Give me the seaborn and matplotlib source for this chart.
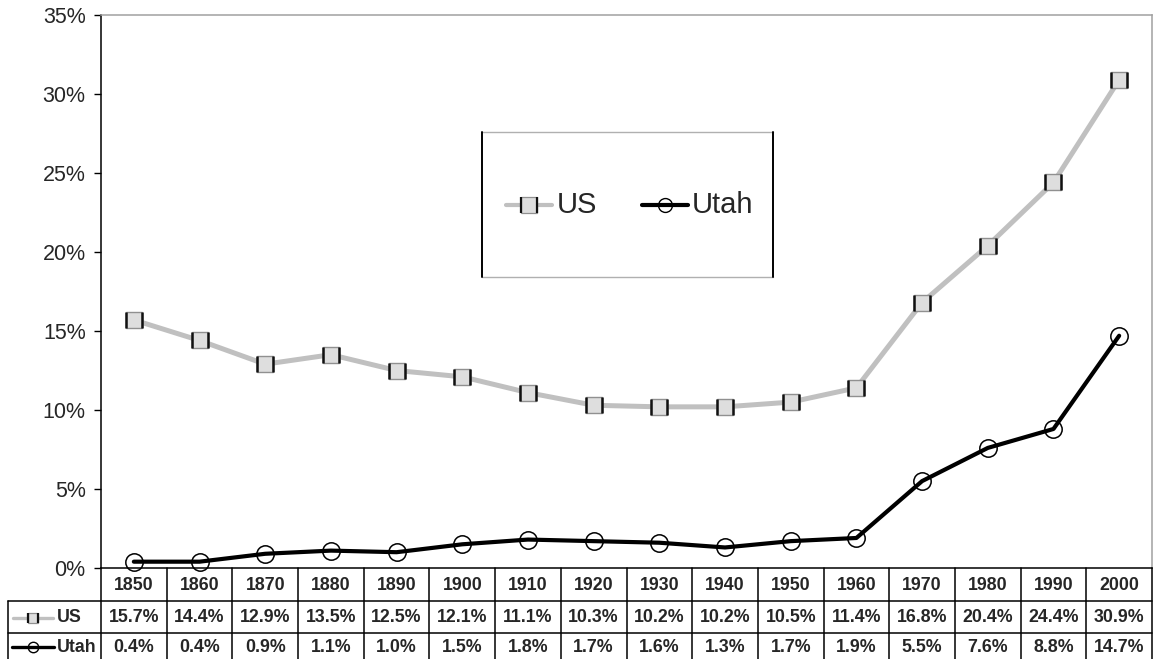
import matplotlib
matplotlib.use("Agg")
import matplotlib.pyplot as plt
import matplotlib.transforms as mtransforms
from matplotlib.path import Path
import seaborn as sns
import pandas as pd

years = ["1850", "1860", "1870", "1880", "1890", "1900", "1910", "1920",
         "1930", "1940", "1950", "1960", "1970", "1980", "1990", "2000"]
us = [15.7, 14.4, 12.9, 13.5, 12.5, 12.1, 11.1, 10.3,
      10.2, 10.2, 10.5, 11.4, 16.8, 20.4, 24.4, 30.9]
utah = [0.4, 0.4, 0.9, 1.1, 1.0, 1.5, 1.8, 1.7,
        1.6, 1.3, 1.7, 1.9, 5.5, 7.6, 8.8, 14.7]
y_ticks = [0, 5, 10, 15, 20, 25, 30, 35]

sns.set_style("white")
plt.rcParams["font.family"] = ["Liberation Sans", "DejaVu Sans"]

W, H = 1154, 659
fig = plt.figure(figsize=(W / 100, H / 100), dpi=100)
ax_l, ax_r, ax_t, ax_b = 101, 1152, 15, 568
ax = fig.add_axes([ax_l / W, 1 - ax_b / H, (ax_r - ax_l) / W, (ax_b - ax_t) / H])

x = list(range(len(years)))
df = pd.DataFrame({"x": x, "US": us, "Utah": utah})

US_LINE = "#c0c0c0"
US_FACE = "#dedede"
side_edges = Path([(-1, -1), (-1, 1), (1, -1), (1, 1)],
                  [Path.MOVETO, Path.LINETO, Path.MOVETO, Path.LINETO])

# US series: grey line with light square markers and dark side edges
sns.lineplot(data=df, x="x", y="US", ax=ax, color=US_LINE, linewidth=3.6,
             marker="s", markersize=12, markerfacecolor=US_FACE,
             markeredgecolor="#909090", markeredgewidth=1.0, zorder=3)
ax.plot(df["x"], df["US"], linestyle="none", marker=side_edges,
        markersize=12, markeredgecolor="#111111", markeredgewidth=1.8, zorder=4)

# Utah series: black line with open circles
sns.lineplot(data=df, x="x", y="Utah", ax=ax, color="black", linewidth=3.0,
             marker="o", markersize=12.5, markerfacecolor="none",
             markeredgecolor="black", markeredgewidth=1.1, zorder=5)
for ln in ax.lines:
    ln.set_clip_on(False)

ax.set_xlim(-0.5, len(years) - 0.5)
ax.set_ylim(0, 35)
ax.set_yticks(y_ticks)
ax.set_yticklabels([f"{v}%" for v in y_ticks], fontsize=15.5)
ax.set_xticks([])
ax.set_xlabel("")
ax.set_ylabel("")
ax.tick_params(axis="y", length=5, width=1, color="black", pad=6, left=True)
for side in ["top", "right"]:
    ax.spines[side].set_color("#a0a0a0")
    ax.spines[side].set_linewidth(1.1)
ax.spines["left"].set_color("black")
ax.spines["left"].set_linewidth(1.1)
ax.spines["bottom"].set_color("black")
ax.spines["bottom"].set_linewidth(1.1)

# Legend box
lx0, lx1, ly0, ly1 = 482, 773, 132, 277
fig.add_artist(plt.Line2D([lx0 / W, lx1 / W], [1 - ly0 / H] * 2, color="#b0b0b0", lw=1))
fig.add_artist(plt.Line2D([lx0 / W, lx1 / W], [1 - ly1 / H] * 2, color="#b0b0b0", lw=1))
fig.add_artist(plt.Line2D([lx0 / W] * 2, [1 - ly0 / H, 1 - ly1 / H], color="black", lw=1.4))
fig.add_artist(plt.Line2D([lx1 / W] * 2, [1 - ly0 / H, 1 - ly1 / H], color="black", lw=1.4))


def legend_handle(cx, cy, half, kind, ms, lw):
    xs = [(cx - half) / W, (cx + half) / W]
    ys = [1 - cy / H] * 2
    if kind == "us":
        fig.add_artist(plt.Line2D(xs, ys, color=US_LINE, lw=lw))
        fig.add_artist(plt.Line2D([cx / W], [1 - cy / H], marker="s", ms=ms,
                                  mfc=US_FACE, mec="#909090", mew=0.9, ls="none"))
        fig.add_artist(plt.Line2D([cx / W], [1 - cy / H], marker=side_edges, ms=ms,
                                  mec="#111111", mew=1.6, ls="none"))
    else:
        fig.add_artist(plt.Line2D(xs, ys, color="black", lw=lw))
        fig.add_artist(plt.Line2D([cx / W], [1 - cy / H], marker="o", ms=ms,
                                  mfc="none", mec="black", mew=1.0, ls="none"))


legend_handle(529, 205, 23, "us", 12, 3.0)
fig.text(557 / W, 1 - 205 / H, "US", fontsize=21, va="center", ha="left")
legend_handle(665, 205, 23, "utah", 10, 3.0)
fig.text(692 / W, 1 - 205 / H, "Utah", fontsize=21, va="center", ha="left")

# Data table below the plot
trans = mtransforms.blended_transform_factory(ax.transData, fig.transFigure)
fy = lambda py: 1 - py / H
row_header = (568, 601)
row_us = (601, 633)
row_utah = (633, 659)

line_kw = dict(color="black", lw=1.1, transform=trans, clip_on=False)
for i in range(len(years) + 1):
    xb = i - 0.5
    fig.add_artist(plt.Line2D([xb, xb], [fy(568), fy(659)], **line_kw))
# label column outline
fig.add_artist(plt.Line2D([8 / W, 8 / W], [fy(601), fy(659)], color="black", lw=1.1))
fig.add_artist(plt.Line2D([8 / W, ax_r / W], [fy(601), fy(601)], color="black", lw=1.1))
fig.add_artist(plt.Line2D([8 / W, ax_r / W], [fy(633), fy(633)], color="black", lw=1.1))

cell_kw = dict(transform=trans, fontsize=12.8, fontweight="bold", ha="center", va="center")
for i, yr in enumerate(years):
    fig.text(i, fy(sum(row_header) / 2 + 1), yr, **cell_kw)
    fig.text(i, fy(sum(row_us) / 2 + 1), f"{us[i]:.1f}%", **cell_kw)
    fig.text(i, fy(sum(row_utah) / 2 + 1), f"{utah[i]:.1f}%", **cell_kw)

legend_handle(33, 618, 20, "us", 7, 2.4)
fig.text(57 / W, fy(618), "US", fontsize=12.8, fontweight="bold", va="center", ha="left")
legend_handle(33, 647, 21, "utah", 7.5, 2.4)
fig.text(57 / W, fy(647), "Utah", fontsize=12.8, fontweight="bold", va="center", ha="left")

fig.savefig("out.png", dpi=100)
